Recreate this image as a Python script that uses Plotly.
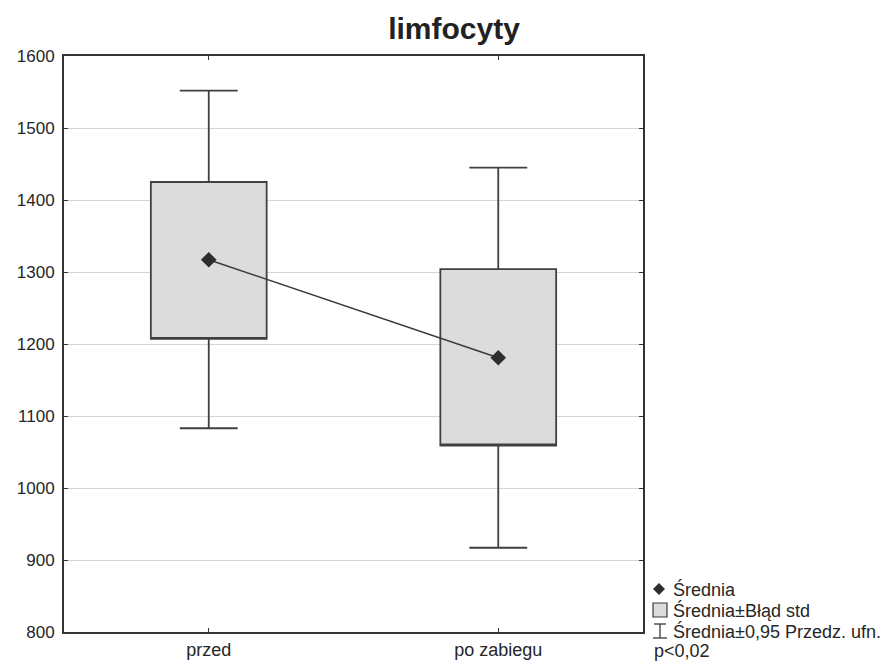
import plotly.graph_objects as go

# Lymphocyte counts before and after the procedure
categories = ["przed", "po zabiegu"]
mean = [1317, 1181]
se_low = [1207, 1059]      # mean - standard error
se_high = [1425, 1304]     # mean + standard error
ci_low = [1083, 917]       # mean - 95% confidence interval
ci_high = [1552, 1445]     # mean + 95% confidence interval

y_ticks = [800, 900, 1000, 1100, 1200, 1300, 1400, 1500, 1600]

FONT = "Liberation Sans, Arial, sans-serif"
INK = "#262626"

# plot area in pixels (for legend placement outside the axes)
L, R, T, B = 64, 643, 56, 632


def px_x(px):
    return (px - L) / (R - L)


def px_y(py):
    return (B - py) / (B - T)


fig = go.Figure()

# Box = mean ± SE, whiskers = 95% CI
fig.add_trace(go.Box(
    x=categories,
    q1=se_low,
    median=se_low,
    q3=se_high,
    lowerfence=ci_low,
    upperfence=ci_high,
    width=0.4,
    whiskerwidth=0.5,
    fillcolor="#dcdcdc",
    line=dict(color="#404040", width=1.8),
    boxpoints=False,
    showlegend=False,
    hoverinfo="skip",
))

# Means joined by a line
fig.add_trace(go.Scatter(
    x=categories,
    y=mean,
    mode="lines+markers",
    line=dict(color="#3a3a3a", width=1.5),
    marker=dict(symbol="diamond", size=12, color="#2e2e2e"),
    showlegend=False,
))

# Legend drawn beside the plot
shapes = []
annotations = []
legend_rows = [589, 610, 631, 651]
legend_text = ["Średnia", "Średnia±Błąd std", "Średnia±0,95 Przedz. ufn."]
for yy, txt in zip(legend_rows[:3], legend_text):
    annotations.append(dict(
        x=px_x(671), y=px_y(yy), xref="paper", yref="paper",
        text=txt, showarrow=False, xanchor="left", yanchor="middle",
        font=dict(family=FONT, size=18, color=INK),
    ))
annotations.append(dict(
    x=px_x(652), y=px_y(legend_rows[3]), xref="paper", yref="paper",
    text="p<0,02", showarrow=False, xanchor="left", yanchor="middle",
    font=dict(family=FONT, size=18, color=INK),
))

# diamond symbol
cx, cy = 659, legend_rows[0]
shapes.append(dict(
    type="path", xref="paper", yref="paper",
    path=(f"M {px_x(cx-6)} {px_y(cy)} L {px_x(cx)} {px_y(cy-6)} "
          f"L {px_x(cx+6)} {px_y(cy)} L {px_x(cx)} {px_y(cy+6)} Z"),
    fillcolor="#2e2e2e", line=dict(width=0),
))
# grey square symbol
cy = legend_rows[1]
shapes.append(dict(
    type="rect", xref="paper", yref="paper",
    x0=px_x(653), x1=px_x(667), y0=px_y(cy + 7), y1=px_y(cy - 7),
    fillcolor="#dcdcdc", line=dict(color="#3a3a3a", width=1.2),
))
# whisker symbol
cy = legend_rows[2]
for x0, x1, y0, y1 in [(654, 666, cy - 7, cy - 7),
                       (660, 660, cy - 7, cy + 7),
                       (653, 667, cy + 7, cy + 7)]:
    shapes.append(dict(
        type="line", xref="paper", yref="paper",
        x0=px_x(x0), x1=px_x(x1), y0=px_y(y0), y1=px_y(y1),
        line=dict(color="#3a3a3a", width=1.3),
    ))

fig.update_layout(
    width=890,
    height=662,
    margin=dict(l=L, r=890 - R, t=T, b=662 - B, autoexpand=False),
    paper_bgcolor="white",
    plot_bgcolor="white",
    font=dict(family=FONT, size=17, color=INK),
    title=dict(
        text="<b>limfocyty</b>",
        x=454 / 890,
        xanchor="center",
        y=1 - 28 / 662,
        yanchor="middle",
        font=dict(family=FONT, size=30, color="#222222"),
    ),
    xaxis=dict(
        type="category",
        range=[-0.5, 1.5],
        automargin=False,
        showline=True,
        linecolor="#333333",
        linewidth=2,
        mirror="allticks",
        ticks="inside",
        ticklen=4,
        tickcolor="#333333",
        showgrid=False,
        zeroline=False,
        ticklabelstandoff=0,
        tickfont=dict(family=FONT, size=18, color=INK),
    ),
    yaxis=dict(
        range=[800, 1600],
        tickvals=y_ticks,
        automargin=False,
        showline=True,
        linecolor="#333333",
        linewidth=2,
        mirror="allticks",
        ticks="inside",
        ticklen=4,
        tickcolor="#333333",
        showgrid=True,
        gridcolor="#d4d4d4",
        gridwidth=1,
        zeroline=False,
        ticklabelstandoff=4,
        tickfont=dict(family=FONT, size=17, color=INK),
    ),
    shapes=shapes,
    annotations=annotations,
)

fig.write_html("out.html")
